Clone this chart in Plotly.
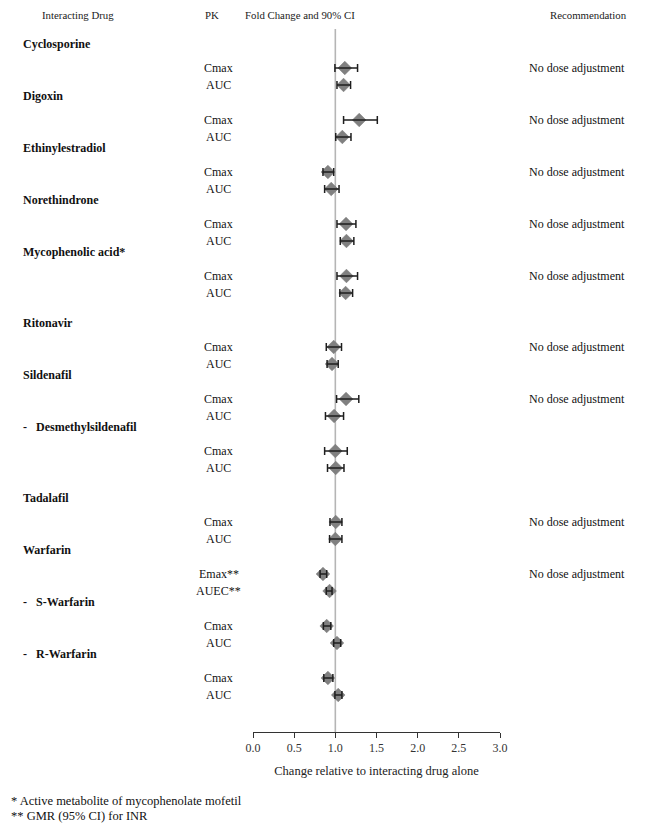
import plotly.graph_objects as go

# ---------------- data ----------------
drugs = ["Cyclosporine", "Digoxin", "Ethinylestradiol", "Norethindrone",
         "Mycophenolic acid*", "Ritonavir", "Sildenafil",
         "-\u00a0\u00a0\u00a0Desmethylsildenafil", "Tadalafil", "Warfarin",
         "-\u00a0\u00a0\u00a0S-Warfarin", "-\u00a0\u00a0\u00a0R-Warfarin"]
recommendations = ["No dose adjustment", "No dose adjustment", "No dose adjustment",
                   "No dose adjustment", "No dose adjustment", "No dose adjustment",
                   "No dose adjustment", "", "No dose adjustment", "No dose adjustment",
                   "", ""]
pk_params = [["Cmax", "AUC"], ["Cmax", "AUC"], ["Cmax", "AUC"], ["Cmax", "AUC"],
             ["Cmax", "AUC"], ["Cmax", "AUC"], ["Cmax", "AUC"], ["Cmax", "AUC"],
             ["Cmax", "AUC"], ["Emax**", "AUEC**"], ["Cmax", "AUC"], ["Cmax", "AUC"]]
gmr = [[1.115, 1.10], [1.29, 1.085], [0.91, 0.95], [1.13, 1.135],
       [1.135, 1.125], [0.98, 0.96], [1.13, 0.985], [1.00, 1.005],
       [1.005, 1.00], [0.85, 0.93], [0.895, 1.02], [0.91, 1.035]]
ci_low = [[0.995, 1.02], [1.10, 1.005], [0.85, 0.87], [1.02, 1.06],
          [1.02, 1.055], [0.89, 0.90], [1.015, 0.88], [0.87, 0.905],
          [0.935, 0.93], [0.815, 0.89], [0.855, 0.98], [0.86, 0.995]]
ci_high = [[1.27, 1.185], [1.51, 1.19], [0.98, 1.045], [1.25, 1.225],
           [1.27, 1.21], [1.075, 1.035], [1.285, 1.10], [1.145, 1.105],
           [1.08, 1.08], [0.895, 0.96], [0.945, 1.065], [0.97, 1.08]]
x_ticks = [0.0, 0.5, 1.0, 1.5, 2.0, 2.5, 3.0]
headers = ["Interacting Drug", "PK", "Fold Change and 90% CI", "Recommendation"]
footnotes = ["* Active metabolite of mycophenolate mofetil",
             "** GMR (95% CI) for INR"]

# ---------------- layout (pixel based, page coordinates) ----------------
PAGE_W, PAGE_H = 653, 835
BODY = 8  # default page margin around the figure
W, H = PAGE_W - BODY, PAGE_H - BODY
PLOT_L, PLOT_R = 253.3, 500.0      # page px of x = 0 and x = 3
PLOT_T, PLOT_B = BODY, 732         # page px of plot top / x axis line
SERIF = "Liberation Serif, Times New Roman, serif"

def px2paper_x(px):
    return (px - PLOT_L) / (PLOT_R - PLOT_L)

def py2paper_y(py):
    return (PLOT_B - py) / (PLOT_B - PLOT_T)

# row positions derived from table structure (page px)
first_header = 44
group_pitch = 52
extra_gap = 19
gap_after = {4, 7}  # blank line after these groups
row_offsets = [24, 41]

header_y, row_y = [], []
y = first_header
for gi in range(len(drugs)):
    header_y.append(y)
    row_y.append([y + o for o in row_offsets])
    y += group_pitch + (extra_gap if gi in gap_after else 0)

xs, ys, lo, hi = [], [], [], []
for gi in range(len(drugs)):
    for k in range(2):
        xs.append(gmr[gi][k])
        ys.append(row_y[gi][k])
        lo.append(gmr[gi][k] - ci_low[gi][k])
        hi.append(ci_high[gi][k] - gmr[gi][k])

fig = go.Figure()
fig.add_trace(go.Scatter(
    x=xs, y=ys, mode="markers",
    marker=dict(symbol="diamond", size=10.5, color="#808080",
                line=dict(width=0.5, color="#727272")),
    hoverinfo="skip", showlegend=False, cliponaxis=False))
fig.add_trace(go.Scatter(
    x=xs, y=ys, mode="markers",
    marker=dict(size=1, opacity=0),
    error_x=dict(type="data", symmetric=False, array=hi, arrayminus=lo,
                 color="#1e1e1e", thickness=1.5, width=4),
    hoverinfo="skip", showlegend=False, cliponaxis=False))

annotations = []
# column headers
header_x = [79, 212, 300, 588]
for txt, hx in zip(headers, header_x):
    annotations.append(dict(text=txt, x=px2paper_x(hx), xref="paper",
                            y=1, yref="paper", showarrow=False,
                            xanchor="center", yanchor="top", borderpad=0,
                            font=dict(family=SERIF, size=10.8, color="#222")))
# drug names, PK labels, recommendations
for gi, d in enumerate(drugs):
    annotations.append(dict(text="<b>%s</b>" % d, x=px2paper_x(22), xref="paper",
                            y=header_y[gi], yref="y", showarrow=False,
                            xanchor="left", yanchor="middle",
                            font=dict(family=SERIF, size=12, color="#111")))
    for k in range(2):
        annotations.append(dict(text=pk_params[gi][k], x=px2paper_x(219), xref="paper",
                                y=row_y[gi][k], yref="y", showarrow=False,
                                xanchor="center", yanchor="middle",
                                font=dict(family=SERIF, size=12, color="#111")))
    if recommendations[gi]:
        annotations.append(dict(text=recommendations[gi], x=px2paper_x(577), xref="paper",
                                y=row_y[gi][0], yref="y", showarrow=False,
                                xanchor="center", yanchor="middle",
                                font=dict(family=SERIF, size=12, color="#111")))
# footnotes
for i, f in enumerate(footnotes):
    annotations.append(dict(text=f, x=px2paper_x(10), xref="paper",
                            y=py2paper_y(801 + 15 * i), yref="paper", showarrow=False,
                            xanchor="left", yanchor="middle",
                            font=dict(family=SERIF, size=12.5, color="#111")))

fig.update_layout(
    width=W, height=H,
    margin=dict(l=PLOT_L - BODY, r=PAGE_W - PLOT_R, t=PLOT_T - BODY, b=PAGE_H - PLOT_B),
    paper_bgcolor="white", plot_bgcolor="white",
    annotations=annotations,
    shapes=[dict(type="line", xref="x", yref="y", x0=1, x1=1, y0=29, y1=PLOT_B,
                 line=dict(color="#b5b5b5", width=1.6), layer="below")],
    xaxis=dict(range=[0, 3], tickvals=x_ticks,
               ticktext=["%.1f" % v for v in x_ticks],
               showline=True, linecolor="#333", linewidth=1,
               ticks="outside", ticklen=5, tickcolor="#333", tickwidth=1,
               showgrid=False, zeroline=False,
               tickfont=dict(family=SERIF, size=12, color="#333"),
               title=dict(text="Change relative to interacting drug alone",
                          font=dict(family=SERIF, size=12.5, color="#222"),
                          standoff=11)),
    yaxis=dict(range=[PLOT_B, PLOT_T], visible=False, showgrid=False, zeroline=False),
    font=dict(family=SERIF),
)

fig.write_html("out.html")
